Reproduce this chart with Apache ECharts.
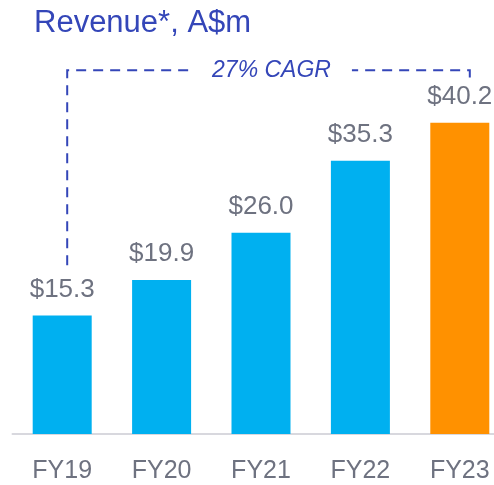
<!DOCTYPE html>
<html>
<head>
<meta charset="utf-8">
<script src="https://cdn.jsdelivr.net/npm/echarts@6/dist/echarts.min.js"></script>
<style>html,body{margin:0;padding:0;background:#fff}#c{width:494px;height:485px}</style>
</head>
<body>
<div id="c"></div>
<script>
const categories = ['FY19', 'FY20', 'FY21', 'FY22', 'FY23'];
const revenue = [15.3, 19.9, 26.0, 35.3, 40.2];
const barColors = ['#00b0f0', '#00b0f0', '#00b0f0', '#00b0f0', '#ff9100'];
const cagrLabel = '27% CAGR';

const FONT = '"Liberation Sans", Arial, sans-serif';
const chart = echarts.init(document.getElementById('c'));
chart.setOption({
  animation: false,
  title: {
    text: 'Revenue*, A$m',
    left: 29, top: 3,
    textStyle: { fontFamily: FONT, fontSize: 31, fontWeight: 'normal', color: '#3446b8' }
  },
  grid: { left: 12.5, width: 497, top: 47, bottom: 51, containLabel: false, outerBoundsMode: 'none' },
  xAxis: {
    type: 'category',
    data: categories,
    axisTick: { show: false },
    axisLine: { lineStyle: { color: '#d8d8de', width: 2 } },
    axisLabel: { fontFamily: FONT, fontSize: 25, color: '#6e7280', margin: 25 }
  },
  yAxis: { type: 'value', min: 0, max: 50, show: false, splitLine: { show: false } },
  series: [{
    type: 'bar',
    barWidth: 59,
    data: revenue.map((v, i) => ({ value: v, itemStyle: { color: barColors[i] } })),
    label: {
      show: true, position: 'top', distance: 13,
      formatter: p => '$' + p.value.toFixed(1),
      fontFamily: FONT, fontSize: 26, color: '#6e7280'
    }
  }]
});

// CAGR bracket placed through the chart's own scales
const px = c => chart.convertToPixel({ xAxisIndex: 0 }, c);
const py = v => chart.convertToPixel({ yAxisIndex: 0 }, v);
const xL = px(categories[0]) + 5;
const xR = px(categories[categories.length - 1]) + 10;
const yTop = py(47);
const yLeftEnd = py(21.8);
const yRightEnd = py(45.7);
const dash = { stroke: '#3446b8', lineWidth: 2, lineDash: [10, 7], fill: null };
chart.setOption({
  graphic: [
    { type: 'polyline', shape: { points: [[xL, yLeftEnd], [xL, yTop], [xR, yTop], [xR, yRightEnd]] }, style: dash, z: 10 },
    { type: 'text', x: (xL + xR) / 2 + 3, y: yTop, z: 11,
      style: { text: cagrLabel, fontFamily: FONT, fontSize: 23, fontStyle: 'italic', fill: '#3446b8',
               align: 'center', verticalAlign: 'middle', backgroundColor: '#fff', padding: [0, 21, 0, 21] } }
  ]
});
</script>
</body>
</html>
